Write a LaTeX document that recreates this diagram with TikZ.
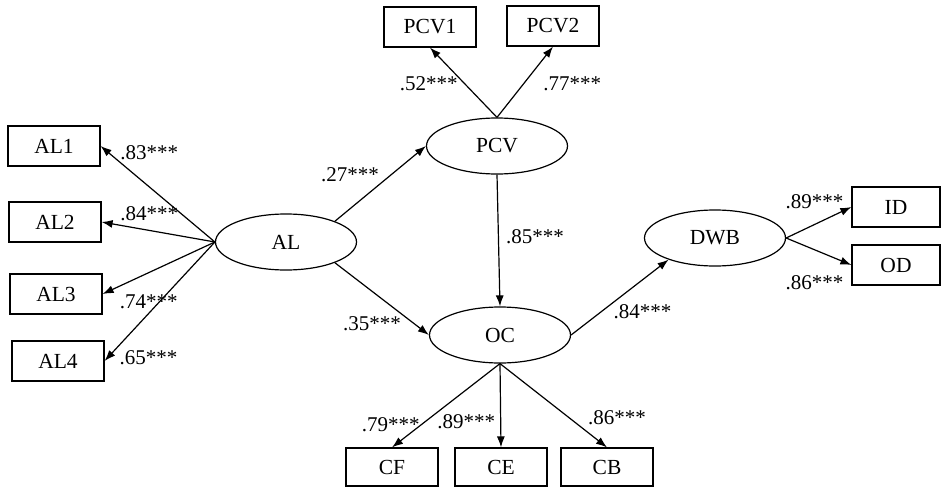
\documentclass[tikz,border=0pt]{standalone}
\usepackage{fontspec}
\setmainfont{Liberation Serif}
\usetikzlibrary{shapes.geometric, arrows.meta}

\begin{document}
\begin{tikzpicture}[x=1pt, y=-1pt, >={Latex[length=11pt, width=8pt]}, line width=1.2pt,
    font=\fontsize{21.5}{25}\selectfont,
    latent/.style={ellipse, draw, minimum width=141pt, minimum height=56pt, inner sep=0pt},
    obs/.style={rectangle, draw, minimum width=92pt, minimum height=40pt, inner sep=0pt},
    lbl/.style={inner sep=1pt, font=\fontsize{21}{24}\selectfont}]
    \useasboundingbox (0,0) rectangle (942,487);

    % Latent constructs
    \node[latent] (AL) at (286,242) {AL};
    \node[latent] (PCV) at (497,146) {PCV};
    \node[latent] (OC) at (500,335) {OC};
    \node[latent] (DWB) at (715,238) {DWB};

    % Indicators of AL
    \node[obs] (AL1) at (54,146) {AL1};
    \node[obs] (AL2) at (55,222) {AL2};
    \node[obs] (AL3) at (56,294) {AL3};
    \node[obs] (AL4) at (58,361) {AL4};

    % Indicators of PCV
    \node[obs] (PCV1) at (430,27) {PCV1};
    \node[obs] (PCV2) at (553,26) {PCV2};

    % Indicators of OC
    \node[obs, minimum height=38pt] (CF) at (392,467) {CF};
    \node[obs, minimum height=38pt] (CE) at (501,467) {CE};
    \node[obs, minimum height=38pt] (CB) at (607,467) {CB};

    % Indicators of DWB
    \node[obs, minimum width=88pt] (ID) at (896,207) {ID};
    \node[obs, minimum width=88pt] (OD) at (896,265) {OD};

    \path[->]
    % Loadings of AL
    (AL.west) edge node[lbl, pos=.84, anchor=south west] {.83***} (AL1.east)
    (AL.west) edge node[lbl, pos=.58, above=8pt] {.84***} (AL2.east)
    (AL.west) edge node[lbl, pos=.59, below=20pt] {.74***} (AL3.east)
    (AL.west) edge node[lbl, pos=.97, right=10pt] {.65***} (AL4.east)
    % Structural paths
    (AL.23) edge node[lbl, pos=.5, above left] {.27***} (PCV.west)
    (AL.-23) edge node[lbl, pos=.72, below left] {.35***} (OC.west)
    (PCV.south) edge node[lbl, pos=.47, right=6pt] {.85***} (OC.north)
    (OC.east) edge node[lbl, pos=.42, below right] {.84***} (DWB.205)
    % Loadings of PCV
    (PCV.north) edge node[lbl, pos=.49, left=5pt] {.52***} (PCV1.south)
    (PCV.north) edge node[lbl, pos=.48, right=18pt] {.77***} (PCV2.south)
    % Loadings of OC
    (OC.south) edge node[lbl, pos=.73, left] {.79***} (CF.north)
    (OC.south) edge node[lbl, pos=.69, left=4pt] {.89***} (CE.north)
    (OC.south) edge node[lbl, pos=.64, right=18pt] {.86***} (CB.north)
    % Loadings of DWB
    (DWB.east) edge node[lbl, pos=.9, above left] {.89***} (ID.west)
    (DWB.east) edge node[lbl, pos=.9, anchor=north east, yshift=-12pt] {.86***} (OD.west);
\end{tikzpicture}
\end{document}
